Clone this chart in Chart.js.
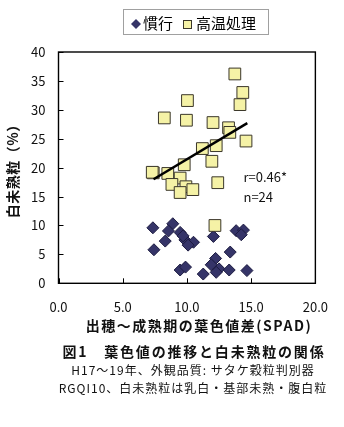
<!DOCTYPE html>
<html>
<head>
<meta charset="utf-8">
<script src="https://cdn.jsdelivr.net/npm/chart.js@4.4.1/dist/chart.umd.min.js"></script>
<style>
  html, body { margin: 0; padding: 0; background: #fff; }
</style>
</head>
<body>
<canvas id="leafChart" width="344" height="427"></canvas>
<script>
// 慣行 (conventional)
var kankouX = [7.35, 8.9, 8.56, 9.47, 8.31, 9.84, 10.51, 10.09, 7.43, 12.06, 13.83, 14.4, 14.23, 13.37, 12.23, 11.89, 12.5, 12.28, 13.29, 11.27, 9.47, 9.89, 14.67, 9.7];
var kankouY = [9.6, 10.3, 9.05, 8.8, 7.3, 7.5, 7.1, 6.6, 5.8, 8.1, 9.1, 9.2, 8.4, 5.4, 4.3, 3.2, 2.5, 1.9, 2.3, 1.6, 2.3, 2.8, 2.2, 8.2];
// 高温処理 (high temperature)
var koonX = [13.73, 14.35, 10.04, 14.13, 8.24, 9.96, 12.03, 13.24, 13.34, 14.6, 12.28, 11.2, 11.94, 9.79, 7.38, 7.3, 8.51, 9.47, 8.83, 9.92, 10.46, 9.47, 12.4, 12.18];
var koonY = [36.2, 33.0, 31.6, 30.9, 28.6, 28.2, 27.8, 26.9, 26.1, 24.6, 23.8, 23.3, 21.1, 20.5, 19.1, 19.2, 19.0, 18.2, 17.1, 16.7, 16.2, 15.7, 17.4, 10.0];
// regression line for 高温処理
var trendX = [7.4, 14.7];
var trendY = [18.0, 27.7];

var xTicks = [0, 5, 10, 15, 20];
var yTicks = [0, 5, 10, 15, 20, 25, 30, 35, 40];

var seriesNames = ["慣行", "高温処理"];
var statText = ["r=0.46*", "n=24"];
var xTitle = "出穂～成熟期の葉色値差(SPAD)";
var yTitle = "白未熟粒（%）";
var caption = ["図1　葉色値の推移と白未熟粒の関係", "H17～19年、外観品質: サタケ穀粒判別器", "RGQI10、白未熟粒は乳白・基部未熟・腹白粒"];

var jp = "'Noto Sans CJK JP', 'Noto Sans', sans-serif";

function toPoints(xs, ys) {
    var pts = [];
    for (var i = 0; i < xs.length; i++) {
        pts.push({ x: xs[i], y: ys[i] });
    }
    return pts;
}

var navy = "#353468";
var navyEdge = "#1c1b40";
var cream = "#f5f2a6";
var creamEdge = "#3b372a";

// frame, inward ticks, legend box, stats and captions
var decor = {
    id: "decor",
    afterDraw: function(chart) {
        var ctx = chart.ctx;
        var a = chart.chartArea;
        var xs = chart.scales.x, ys = chart.scales.y;
        ctx.save();

        ctx.strokeStyle = "#000";
        ctx.lineWidth = 1.4;
        ctx.strokeRect(a.left, a.top, a.right - a.left, a.bottom - a.top);

        ctx.lineWidth = 1;
        ctx.beginPath();
        yTicks.forEach(function(v) {
            var py = Math.round(ys.getPixelForValue(v)) + 0.5;
            ctx.moveTo(a.left, py);
            ctx.lineTo(a.left + 5, py);
        });
        xTicks.forEach(function(v) {
            var px = Math.round(xs.getPixelForValue(v)) + 0.5;
            ctx.moveTo(px, a.bottom);
            ctx.lineTo(px, a.bottom - 5);
        });
        ctx.stroke();

        // legend
        ctx.strokeStyle = "#a0a0a0";
        ctx.strokeRect(123.5, 9.5, 145, 25);
        ctx.fillStyle = navy;
        ctx.beginPath();
        ctx.moveTo(136, 19); ctx.lineTo(141, 24); ctx.lineTo(136, 29); ctx.lineTo(131, 24);
        ctx.closePath();
        ctx.fill();
        ctx.fillStyle = cream;
        ctx.fillRect(183.5, 20.5, 8, 8);
        ctx.strokeStyle = creamEdge;
        ctx.strokeRect(183.5, 20.5, 8, 8);
        ctx.fillStyle = "#000";
        ctx.font = "15px " + jp;
        ctx.textBaseline = "middle";
        ctx.textAlign = "left";
        ctx.fillText(seriesNames[0], 143, 23);
        ctx.fillText(seriesNames[1], 196, 23);

        // correlation text
        ctx.font = "13px " + jp;
        ctx.fillStyle = "#111";
        ctx.fillText(statText[0], xs.getPixelForValue(14.4), ys.getPixelForValue(18.4));
        ctx.fillText(statText[1], xs.getPixelForValue(14.4), ys.getPixelForValue(14.9));

        // axis titles
        ctx.textAlign = "center";
        ctx.font = "bold 14px " + jp;
        ctx.letterSpacing = "1.5px";
        ctx.fillText(xTitle, 199, 326);
        ctx.letterSpacing = "0.5px";
        ctx.save();
        ctx.translate(13, (a.top + a.bottom) / 2);
        ctx.rotate(-Math.PI / 2);
        ctx.fillText(yTitle, 0, 0);
        ctx.restore();

        // caption
        ctx.font = "bold 14px " + jp;
        ctx.letterSpacing = "1.8px";
        ctx.fillText(caption[0], 194, 352);
        ctx.font = "12px " + jp;
        ctx.letterSpacing = "1px";
        ctx.fillText(caption[1], 193, 370);
        ctx.fillText(caption[2], 193, 388);
        ctx.restore();
    }
};

var ctx = document.getElementById("leafChart");
var chart = new Chart(ctx, {
    type: "scatter",
    data: {
        datasets: [
            {
                label: "trend",
                type: "line",
                data: toPoints(trendX, trendY),
                borderColor: "#000",
                borderWidth: 2.5,
                pointRadius: 0,
                fill: false,
                order: 0
            },
            {
                label: seriesNames[1],
                data: toPoints(koonX, koonY),
                pointStyle: "rect",
                pointRadius: 8.3,
                backgroundColor: cream,
                borderColor: creamEdge,
                borderWidth: 1,
                order: 1
            },
            {
                label: seriesNames[0],
                data: toPoints(kankouX, kankouY),
                pointStyle: "rectRot",
                pointRadius: 6,
                backgroundColor: navy,
                borderColor: navyEdge,
                borderWidth: 1,
                order: 2
            }
        ]
    },
    options: {
        responsive: false,
        animation: false,
        layout: { padding: { top: 52, right: 15, left: 0, bottom: 0 } },
        plugins: {
            legend: { display: false },
            tooltip: { enabled: false }
        },
        scales: {
            x: {
                type: "linear",
                min: 0,
                max: 20,
                afterBuildTicks: function(scale) {
                    scale.ticks = xTicks.map(function(v) { return { value: v }; });
                },
                afterFit: function(scale) { scale.height = 143.7; },
                grid: { display: false, drawTicks: false },
                border: { display: false },
                ticks: {
                    padding: 16,
                    color: "#111",
                    font: { family: jp, size: 13 },
                    maxRotation: 0,
                    callback: function(v) { return v.toFixed(1); }
                }
            },
            y: {
                min: 0,
                max: 40,
                afterBuildTicks: function(scale) {
                    scale.ticks = yTicks.map(function(v) { return { value: v }; });
                },
                afterFit: function(scale) { scale.width = 58.5; },
                grid: { display: false, drawTicks: false },
                border: { display: false },
                ticks: {
                    padding: 13,
                    color: "#111",
                    font: { family: jp, size: 13 }
                }
            }
        }
    },
    plugins: [decor]
});
</script>
</body>
</html>
